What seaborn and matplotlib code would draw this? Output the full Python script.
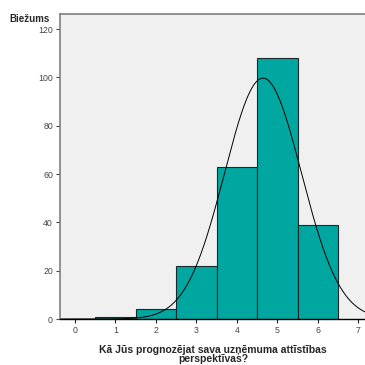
import numpy as np
import pandas as pd
import matplotlib
matplotlib.use("Agg")
import matplotlib.pyplot as plt
import seaborn as sns

# RESPONSE VALUES AND HOW MANY ANSWERED EACH
answers = [1, 2, 3, 4, 5, 6]
counts = [1, 4, 22, 63, 108, 39]
x_ticks = [0, 1, 2, 3, 4, 5, 6, 7]
y_ticks = [0, 20, 40, 60, 80, 100, 120]

df = pd.DataFrame({"answer": answers, "count": counts})

sns.set_style("white")
plt.rcParams["font.family"] = ["Liberation Sans", "DejaVu Sans"]

fig = plt.figure(figsize=(3.65, 3.65), dpi=100)
ax = fig.add_axes([0.164, 0.126, 0.84, 0.836])
ax.set_facecolor("#f0f0f0")

sns.histplot(data=df, x="answer", weights="count", discrete=True,
             color="#00a6a0", edgecolor="#1a2a2a", linewidth=0.8,
             alpha=1, ax=ax)

# NORMAL CURVE FROM THE DATA (LIKE SPSS)
vals = np.repeat(answers, counts)
mu, sd = vals.mean(), vals.std(ddof=1)
xs = np.linspace(-0.4, 7.3, 400)
ys = len(vals) / (sd * np.sqrt(2 * np.pi)) * np.exp(-0.5 * ((xs - mu) / sd) ** 2)
sns.lineplot(x=xs, y=ys, color="black", linewidth=0.7, ax=ax)

ax.set_xlim(-0.37, 7.2)
ax.set_ylim(0, 126.3)
ax.set_xticks(x_ticks)
ax.set_yticks(y_ticks)
ax.tick_params(axis="both", labelsize=6.3, colors="#444444", length=3,
               width=0.8, direction="out", left=True, bottom=True, pad=2)
ax.tick_params(axis="x", colors="#222222", labelcolor="#444444")

for s in ["left", "top"]:
    ax.spines[s].set_color("#808080")
    ax.spines[s].set_linewidth(1.2)
ax.spines["bottom"].set_color("black")
ax.spines["bottom"].set_linewidth(1.0)
ax.spines["right"].set_visible(False)

ax.set_ylabel("")
ax.set_xlabel("Kā Jūs prognozējat sava uzņēmuma attīstības\nperspektīvas?",
              fontsize=7.5, fontweight="bold", linespacing=0.95, labelpad=7)
fig.text(0.082, 0.948, "Biežums", fontsize=7, fontweight="bold",
         ha="center", va="center")

fig.savefig("out.png", dpi=100)
